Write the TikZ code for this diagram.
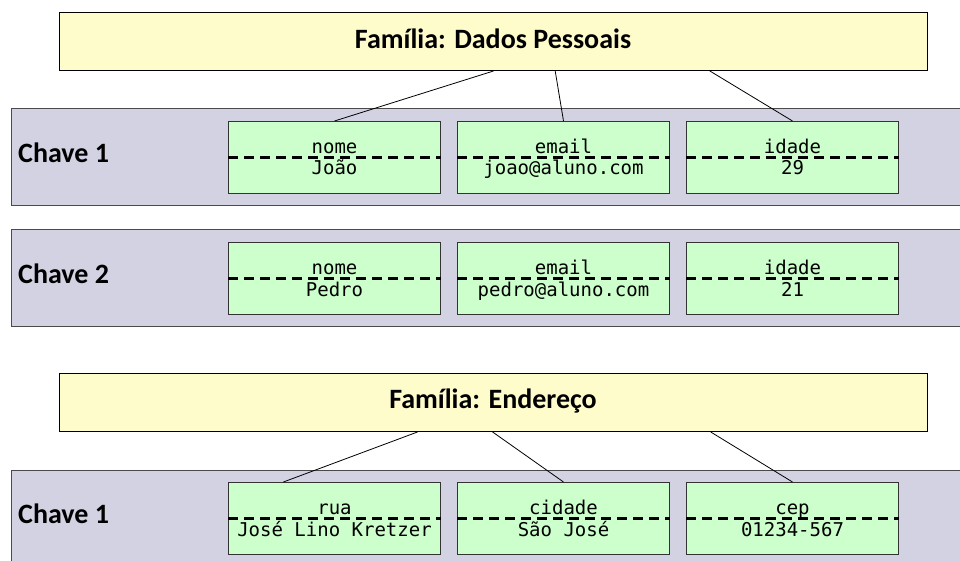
\documentclass[tikz,border=0pt]{standalone}
\usepackage{fontspec}
\setmainfont{Carlito}
\newfontfamily\monof{DejaVu Sans Mono}
\usetikzlibrary{calc}

\definecolor{famfill}{HTML}{FFFCCC}
\definecolor{cellfill}{HTML}{CCFFCC}
\definecolor{rowfill}{HTML}{D2D2E3}
\definecolor{rowline}{HTML}{4A4A4A}
\definecolor{cellline}{HTML}{333333}

\tikzset{
  fam/.style={draw=black, fill=famfill, line width=1pt, inner sep=0pt,
    minimum width=868pt, minimum height=58pt, anchor=north west},
  rowbox/.style={draw=rowline, fill=rowfill, line width=1.3pt, inner sep=0pt,
    minimum width=970pt, anchor=north west},
  cell/.style={draw=cellline, fill=cellfill, line width=1pt, inner sep=0pt,
    minimum width=212pt, minimum height=72pt, anchor=north west},
  divider/.style={line width=2.3pt, dash pattern=on 10pt off 6pt},
  link/.style={line width=0.8pt, draw=black},
  famtitle/.style={font=\fontsize{28}{32}\selectfont\bfseries, anchor=base, inner sep=0pt},
  keylabel/.style={font=\fontsize{28}{32}\selectfont\bfseries, anchor=base west, inner sep=0pt},
  hdr/.style={font=\monof\fontsize{19}{22}\selectfont, anchor=base, inner sep=0pt},
  val/.style={font=\monof\fontsize{19}{22}\selectfont, anchor=base, inner sep=0pt},
}

% one column of a row: name, left x, top y, column name, stored value
\newcommand\datacell[5]{%
  \node[cell] (#1) at (#2,#3) {};
  \draw[divider] (#1.west) -- (#1.east);
  \node[hdr] at ([yshift=4pt]#1.center) {#4};
  \node[val] at ([yshift=-17.5pt]#1.center) {#5};
}

\begin{document}
\begin{tikzpicture}[x=1pt, y=-1pt]
  \useasboundingbox (0,0) rectangle (960,561);

  % column family: personal data
  \node[fam] (famA) at (59,12) {};
  \node[famtitle] at (493,48.5) {Família: Dados Pessoais};

  % row key 1
  \node[rowbox, minimum height=97pt] (rowA) at (11,108) {};
  \node[keylabel] at (18,162.5) {Chave 1};
  \datacell{aNome}{228}{121}{nome}{João}
  \datacell{aEmail}{457}{121}{email}{joao@aluno.com}
  \datacell{aIdade}{686}{121}{idade}{29}

  \draw[link] ($(famA.south west)!0.5!(famA.south east)$) -- (aNome.north);
  \draw[link] ($(famA.south west)!0.571!(famA.south east)$) -- (aEmail.north);
  \draw[link] ($(famA.south west)!0.749!(famA.south east)$) -- (aIdade.north);

  % row key 2
  \node[rowbox, minimum height=97pt] (rowB) at (11,229) {};
  \node[keylabel] at (18,283.5) {Chave 2};
  \datacell{bNome}{228}{242}{nome}{Pedro}
  \datacell{bEmail}{457}{242}{email}{pedro@aluno.com}
  \datacell{bIdade}{686}{242}{idade}{21}

  % column family: address
  \node[fam] (famB) at (59,373) {};
  \node[famtitle] at (493,408.5) {Família: Endereço};

  % row key 1
  \node[rowbox, minimum height=110pt] (rowC) at (11,470) {};
  \node[keylabel] at (18,523.5) {Chave 1};
  \datacell{cRua}{228}{482}{rua}{José Lino Kretzer}
  \datacell{cCidade}{457}{482}{cidade}{São José}
  \datacell{cCep}{686}{482}{cep}{01234-567}

  \draw[link] ($(famB.south west)!0.4125!(famB.south east)$) -- ($(cRua.north west)!0.26!(cRua.north east)$);
  \draw[link] ($(famB.south west)!0.499!(famB.south east)$) -- (cCidade.north);
  \draw[link] ($(famB.south west)!0.75!(famB.south east)$) -- (cCep.north);
\end{tikzpicture}
\end{document}
